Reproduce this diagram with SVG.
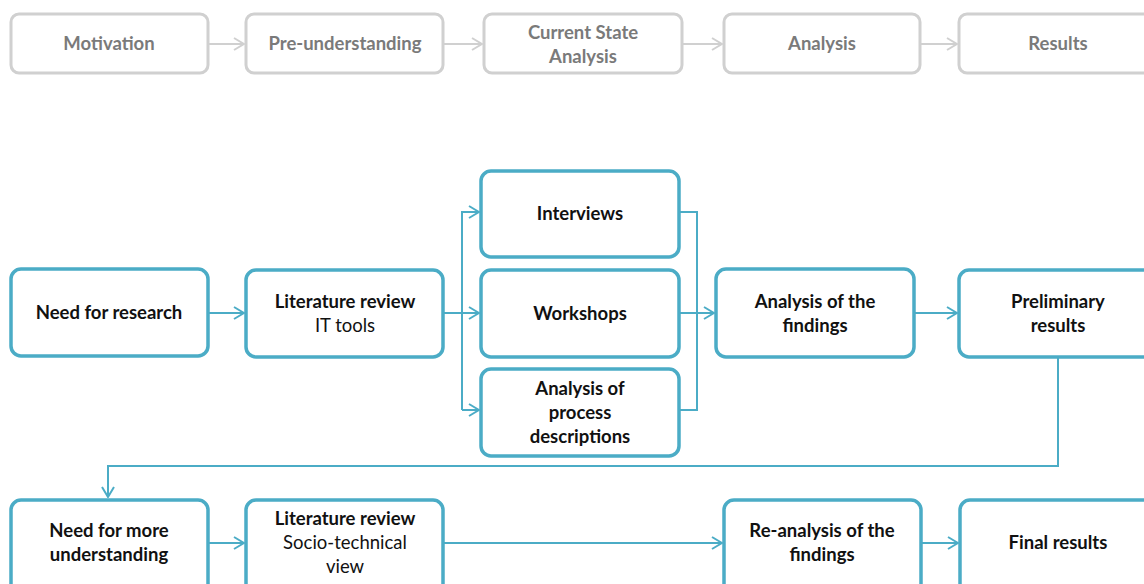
<svg xmlns="http://www.w3.org/2000/svg" width="1144" height="584" viewBox="0 0 1144 584">
<defs>
<style>
.g rect{fill:#fff;stroke:#d0d0d0;stroke-width:3}
.g text{font-family:Lato,"Open Sans",sans-serif;font-weight:bold;font-size:18.5px;fill:#7a7a7a;text-anchor:middle}
.n rect{fill:#fff;stroke:#4bacc6;stroke-width:3.5}
.n text{font-family:Lato,"Open Sans",sans-serif;font-size:18.5px;fill:#111;text-anchor:middle}
.b{font-weight:bold}
.cg{fill:none;stroke:#d0d0d0;stroke-width:2}
.c{fill:none;stroke:#4bacc6;stroke-width:2}
</style>
<marker id="ag" viewBox="0 0 12 14" refX="11" refY="7" markerWidth="12" markerHeight="14" markerUnits="userSpaceOnUse" orient="auto"><path d="M1,1 L11,7 L1,13" fill="none" stroke="#d0d0d0" stroke-width="2"/></marker>
<marker id="a" viewBox="0 0 12 14" refX="11" refY="7" markerWidth="12" markerHeight="14" markerUnits="userSpaceOnUse" orient="auto"><path d="M1,1 L11,7 L1,13" fill="none" stroke="#4bacc6" stroke-width="2"/></marker>
</defs>
<rect width="1144" height="584" fill="#fff"/>
<g id="connectors">
<path class="cg" d="M208,44 H244" marker-end="url(#ag)"/>
<path class="cg" d="M443,44 H482" marker-end="url(#ag)"/>
<path class="cg" d="M682,44 H722" marker-end="url(#ag)"/>
<path class="cg" d="M920,44 H957" marker-end="url(#ag)"/>
<path class="c" d="M208,313 H244" marker-end="url(#a)"/>
<path class="c" d="M443,313 H479" marker-end="url(#a)"/>
<path class="c" d="M462,410 V212 H479" marker-end="url(#a)"/>
<path class="c" d="M462,410 H479" marker-end="url(#a)"/>
<path class="c" d="M679,212 H697 V410 H679"/>
<path class="c" d="M679,313 H714" marker-end="url(#a)"/>
<path class="c" d="M914,313 H957" marker-end="url(#a)"/>
<path class="c" d="M1058,357 V466 H108 V497" marker-end="url(#a)"/>
<path class="c" d="M208,543 H244" marker-end="url(#a)"/>
<path class="c" d="M443,543 H722" marker-end="url(#a)"/>
<path class="c" d="M921,543 H958" marker-end="url(#a)"/>
</g>
<g id="motivation" class="g"><rect x="11" y="14" width="197" height="59" rx="8"/><text x="109" y="50">Motivation</text></g>
<g id="preunderstanding" class="g"><rect x="246" y="14" width="197" height="59" rx="8"/><text x="345" y="50">Pre-understanding</text></g>
<g id="currentstate" class="g"><rect x="484" y="14" width="198" height="59" rx="8"/><text x="583" y="39">Current State</text><text x="583" y="63">Analysis</text></g>
<g id="analysis" class="g"><rect x="724" y="14" width="196" height="59" rx="8"/><text x="822" y="50">Analysis</text></g>
<g id="results" class="g"><rect x="959" y="14" width="200" height="59" rx="8"/><text x="1058" y="50">Results</text></g>

<g id="needresearch" class="n"><rect x="11" y="269" width="197" height="87" rx="10"/><text class="b" x="109" y="319">Need for research</text></g>
<g id="litreview1" class="n"><rect x="246" y="270" width="197" height="87" rx="10"/><text class="b" x="345" y="308">Literature review</text><text x="345" y="332">IT tools</text></g>
<g id="interviews" class="n"><rect x="481" y="171" width="198" height="86" rx="10"/><text class="b" x="580" y="220">Interviews</text></g>
<g id="workshops" class="n"><rect x="481" y="270" width="198" height="87" rx="10"/><text class="b" x="580" y="320">Workshops</text></g>
<g id="processdesc" class="n"><rect x="481" y="369" width="198" height="87" rx="10"/><text class="b" x="580" y="395">Analysis of</text><text class="b" x="580" y="419">process</text><text class="b" x="580" y="443">descriptions</text></g>
<g id="analysisfindings" class="n"><rect x="716" y="269" width="198" height="88" rx="10"/><text class="b" x="815" y="308">Analysis of the</text><text class="b" x="815" y="332">findings</text></g>
<g id="preliminary" class="n"><rect x="959" y="270" width="200" height="87" rx="10"/><text class="b" x="1058" y="308">Preliminary</text><text class="b" x="1058" y="332">results</text></g>

<g id="needmore" class="n"><rect x="11" y="500" width="197" height="100" rx="10"/><text class="b" x="109" y="537">Need for more</text><text class="b" x="109" y="561">understanding</text></g>
<g id="litreview2" class="n"><rect x="246" y="500" width="197" height="100" rx="10"/><text class="b" x="345" y="525">Literature review</text><text x="345" y="549">Socio-technical</text><text x="345" y="573">view</text></g>
<g id="reanalysis" class="n"><rect x="724" y="500" width="197" height="100" rx="10"/><text class="b" x="822" y="537">Re-analysis of the</text><text class="b" x="822" y="561">findings</text></g>
<g id="final" class="n"><rect x="960" y="500" width="200" height="100" rx="10"/><text class="b" x="1058" y="549">Final results</text></g>
</svg>
